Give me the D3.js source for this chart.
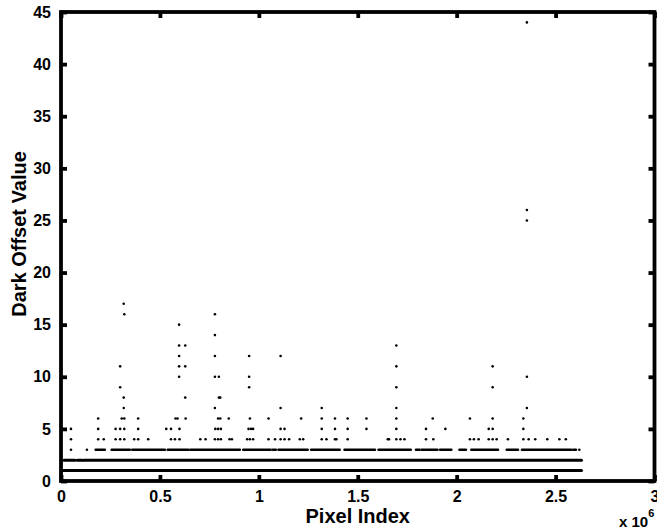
<!DOCTYPE html>
<html>
<head>
<meta charset="utf-8">
<script src="https://cdn.jsdelivr.net/npm/d3@7"></script>
<style>
  html, body { margin: 0; padding: 0; background: #fff; }
  svg { display: block; }
  text { font-family: "Liberation Sans", Arial, Helvetica, sans-serif; font-weight: bold; fill: #000; }
</style>
</head>
<body>
<svg id="chart" width="657" height="529"></svg>
<script>
// Pixel index values are in units of 1e6.
const xTickValues = [0, 0.5, 1, 1.5, 2, 2.5, 3];
const xTickLabels = ["0", "0.5", "1", "1.5", "2", "2.5", "3"];
const yTickValues = [0, 5, 10, 15, 20, 25, 30, 35, 40, 45];
const yTickLabels = ["0", "5", "10", "15", "20", "25", "30", "35", "40", "45"];

// Offsets 1 and 2 cover nearly every pixel: stored as [start, end] index runs.
const runs1 = [[0.010, 2.631]];
const runs2 = [[0.015, 0.071], [0.082, 0.106], [0.113, 2.631]];
// Offset 3: dense runs plus a few isolated pixels.
const runs3 = [
  [0.175, 0.222], [0.256, 0.348], [0.360, 0.525], [0.539, 0.643], [0.653, 0.904],
  [0.921, 1.022], [1.029, 1.059], [1.069, 1.086], [1.099, 1.247], [1.264, 1.409],
  [1.433, 1.587], [1.605, 1.768], [1.794, 1.812], [1.822, 1.838], [1.845, 1.903],
  [1.916, 1.973], [2.014, 2.047], [2.074, 2.209], [2.253, 2.310], [2.330, 2.579],
  [2.589, 2.603]
];
const singles3 = [0.0505, 0.131, 2.620];

// Sparse pixels with higher dark offsets.
const offset4 = [0.0505, 0.188, 0.216, 0.276, 0.299, 0.320, 0.370, 0.390, 0.441, 0.556,
  0.576, 0.599, 0.704, 0.731, 0.778, 0.794, 0.808, 0.852, 0.864, 0.941, 0.955, 0.971,
  1.049, 1.082, 1.110, 1.130, 1.153, 1.207, 1.224, 1.318, 1.342, 1.385, 1.392, 1.449,
  1.652, 1.658, 1.695, 1.716, 1.736, 1.845, 1.882, 2.067, 2.087, 2.111, 2.162, 2.182,
  2.202, 2.259, 2.337, 2.364, 2.397, 2.458, 2.519, 2.552];
const offset5 = [0.0505, 0.188, 0.276, 0.299, 0.320, 0.390, 0.532, 0.556, 0.599, 0.780,
  0.794, 0.808, 0.948, 0.961, 0.971, 1.110, 1.130, 1.318, 1.385, 1.449, 1.544, 1.695,
  1.845, 1.943, 2.162, 2.182, 2.337];
const offset6 = [0.188, 0.307, 0.320, 0.390, 0.579, 0.589, 0.630, 0.794, 0.805, 0.848,
  0.955, 1.049, 1.214, 1.318, 1.385, 1.449, 1.544, 1.695, 1.879, 2.067, 2.182, 2.337];
const offset7 = [0.317, 0.778, 1.110, 1.318, 1.695, 2.355];
const offset8 = [0.317, 0.628, 0.798, 0.805];
const offset9 = [0.299, 0.951, 1.695, 2.182];
const offset10 = [0.597, 0.778, 0.798, 0.951, 2.355];
const offset11 = [0.299, 0.597, 0.628, 1.695, 2.182];
const offset12 = [0.597, 0.778, 0.951, 1.110];
const offset13 = [0.597, 0.628, 1.695];
const offset14 = [0.778];
const offset15 = [0.597];
const offset16 = [0.320, 0.778];
const offset17 = [0.317];
const offset25 = [2.355];
const offset26 = [2.355];
const offset44 = [2.355];

const sparse = [
  [3, singles3], [4, offset4], [5, offset5], [6, offset6], [7, offset7], [8, offset8],
  [9, offset9], [10, offset10], [11, offset11], [12, offset12], [13, offset13],
  [14, offset14], [15, offset15], [16, offset16], [17, offset17], [25, offset25],
  [26, offset26], [44, offset44]
];
const points = sparse.flatMap(([v, xs]) => xs.map(px => ({ x: px, v })));
const runs = [
  ...runs1.map(r => ({ a: r[0], b: r[1], v: 1 })),
  ...runs2.map(r => ({ a: r[0], b: r[1], v: 2 })),
  ...runs3.map(r => ({ a: r[0], b: r[1], v: 3 }))
];

const svg = d3.select("#chart");
const plot = { left: 61, right: 654.5, top: 12, bottom: 481 };

const x = d3.scaleLinear().domain([0, 3]).range([plot.left, plot.right]);
const y = d3.scaleLinear().domain([0, 45]).range([plot.bottom, plot.top]);

// Data marks
svg.append("g")
  .selectAll("line")
  .data(runs)
  .join("line")
  .attr("x1", d => x(d.a))
  .attr("x2", d => x(d.b))
  .attr("y1", d => y(d.v))
  .attr("y2", d => y(d.v))
  .attr("stroke", "#000")
  .attr("stroke-width", d => d.v === 3 ? 2.5 : 3)
  .attr("stroke-linecap", "round");

svg.append("g")
  .selectAll("circle")
  .data(points)
  .join("circle")
  .attr("cx", d => x(d.x))
  .attr("cy", d => y(d.v))
  .attr("r", 1.3)
  .attr("fill", "#000");

// Axes: ticks point inward on all four sides
const tickLen = 6;
const axisBottom = d3.axisBottom(x).tickValues(xTickValues).tickSizeInner(-tickLen).tickSizeOuter(0)
  .tickPadding(10).tickFormat((d, i) => xTickLabels[i]);
const axisTop = d3.axisTop(x).tickValues(xTickValues).tickSizeInner(-tickLen).tickSizeOuter(0).tickFormat("");
const axisLeft = d3.axisLeft(y).tickValues(yTickValues).tickSizeInner(-tickLen).tickSizeOuter(0)
  .tickPadding(10).tickFormat((d, i) => yTickLabels[i]);
const axisRight = d3.axisRight(y).tickValues(yTickValues).tickSizeInner(-tickLen).tickSizeOuter(0).tickFormat("");

function styleAxis(g) {
  g.select(".domain").remove();
  g.selectAll(".tick line").attr("stroke", "#000").attr("stroke-width", 3.8);
  g.selectAll(".tick text").attr("font-size", 16).attr("font-weight", "bold")
    .attr("font-family", "'Liberation Sans', Arial, sans-serif").attr("fill", "#000");
}

svg.append("g").attr("transform", `translate(0,${plot.bottom})`).call(axisBottom).call(styleAxis);
svg.append("g").attr("transform", `translate(0,${plot.top})`).call(axisTop).call(styleAxis);
svg.append("g").attr("transform", `translate(${plot.left},0)`).call(axisLeft).call(styleAxis);
svg.append("g").attr("transform", `translate(${plot.right},0)`).call(axisRight).call(styleAxis);

// Box
svg.append("rect")
  .attr("x", plot.left).attr("y", plot.top)
  .attr("width", plot.right - plot.left).attr("height", plot.bottom - plot.top)
  .attr("fill", "none").attr("stroke", "#000").attr("stroke-width", 3.8);

// Titles
svg.append("text")
  .attr("x", (plot.left + plot.right) / 2).attr("y", 523)
  .attr("text-anchor", "middle").attr("font-size", 20)
  .text("Pixel Index");

svg.append("text")
  .attr("transform", `translate(26,234) rotate(-90)`)
  .attr("text-anchor", "middle").attr("font-size", 20)
  .text("Dark Offset Value");

const mult = svg.append("text").attr("x", 619).attr("y", 527).attr("font-size", 15);
mult.append("tspan").text("x 10");
mult.append("tspan").attr("dy", -10).attr("font-size", 11).text("6");
</script>
</body>
</html>
